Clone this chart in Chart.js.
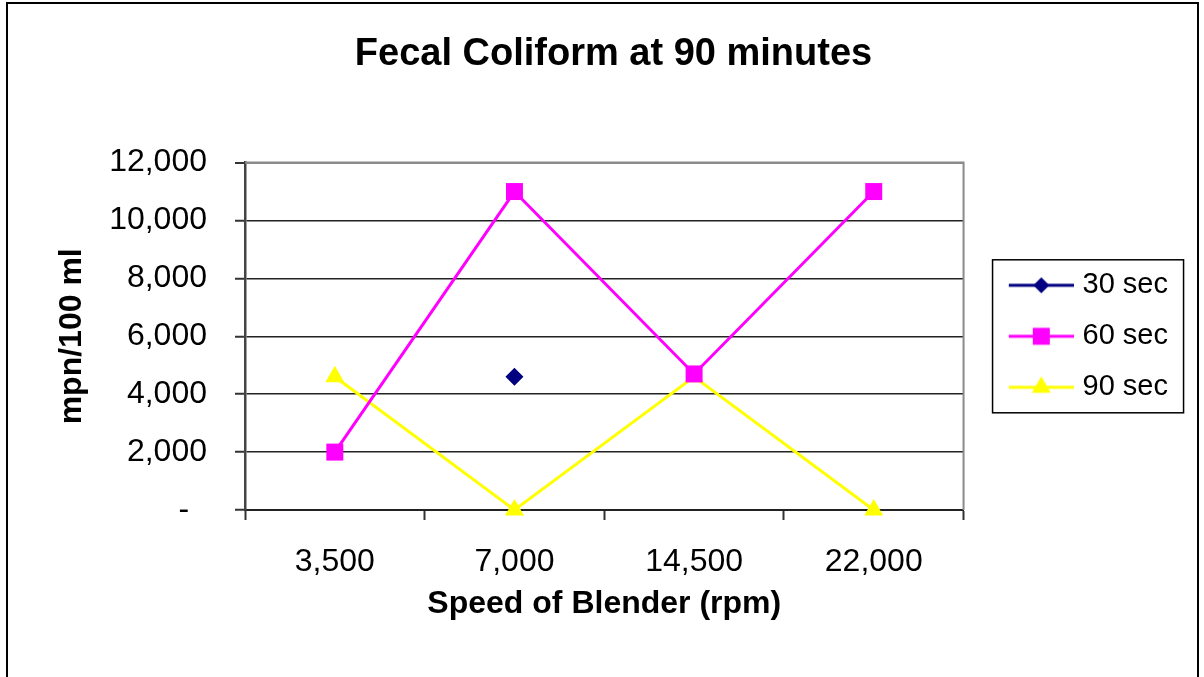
<!DOCTYPE html>
<html><head><meta charset="utf-8">
<script src="https://cdn.jsdelivr.net/npm/chart.js@4.4.0/dist/chart.umd.min.js"></script>
<style>html,body{margin:0;padding:0;background:#fff;overflow:hidden}canvas{display:block}</style>
</head><body>
<canvas id="c" width="1204" height="677"></canvas>
<script>
const categories = ['3,500', '7,000', '14,500', '22,000'];
const seriesNames = ['30 sec', '60 sec', '90 sec'];
const sec30 = [null, 4600, null, null];
const sec60 = [2000, 11000, 4700, 11000];
const sec90 = [4600, 0, 4600, 0];
const yMin = 0, yMax = 12000, yStep = 2000;

const FONT = "'Liberation Sans', Arial, sans-serif";
const colors = ['#000080', '#FF00FF', '#FFFF00'];
const styles = ['rectRot', 'rect', 'triangle'];
const radii = [9, 12, 11];
const legendRadii = [8, 12, 11];

function drawIcon(color, style, r) {
  const c = document.createElement('canvas');
  c.width = 94; c.height = 28;
  const g = c.getContext('2d');
  const cy = 14;
  g.strokeStyle = color; g.lineWidth = 3;
  g.beginPath(); g.moveTo(29, cy); g.lineTo(94, cy); g.stroke();
  g.fillStyle = color;
  g.beginPath();
  if (style === 'rectRot') { g.moveTo(61.5, cy - r); g.lineTo(61.5 + r, cy); g.lineTo(61.5, cy + r); g.lineTo(61.5 - r, cy); }
  else if (style === 'rect') { const s = r * Math.SQRT1_2; g.rect(61.5 - s, cy - s, 2 * s, 2 * s); }
  else { g.moveTo(61.5, cy - r); g.lineTo(61.5 + r * 0.866, cy + r / 2); g.lineTo(61.5 - r * 0.866, cy + r / 2); }
  g.closePath(); g.fill();
  return c;
}
const icons = colors.map((c, i) => drawIcon(c, styles[i], legendRadii[i]));

const framePlugin = {
  id: 'frame',
  beforeDraw(chart) {
    const ctx = chart.ctx;
    ctx.save();
    ctx.fillStyle = '#fff'; ctx.fillRect(0, 0, chart.width, chart.height);
    ctx.strokeStyle = '#000'; ctx.lineWidth = 2;
    ctx.strokeRect(7, 3, 1191, 700);
    ctx.restore();
  },
  beforeDatasetsDraw(chart) {
    const {ctx, chartArea: a} = chart;
    ctx.save();
    ctx.strokeStyle = '#8a8a8a'; ctx.lineWidth = 2;
    ctx.beginPath(); ctx.moveTo(a.left, a.top); ctx.lineTo(a.right, a.top); ctx.lineTo(a.right, a.bottom); ctx.stroke();
    ctx.restore();
  },
  afterDraw(chart) {
    const {ctx, chartArea: a, legend} = chart;
    const cy = (a.top + a.bottom) / 2;
    ctx.save();
    ctx.strokeStyle = '#000'; ctx.lineWidth = 1.5;
    ctx.strokeRect(legend.left + 29, cy - 76.5, 191, 153);
    ctx.restore();
  }
};

new Chart(document.getElementById('c'), {
  type: 'line',
  data: {
    labels: categories,
    datasets: [sec30, sec60, sec90].map((d, i) => ({
      label: seriesNames[i],
      data: d,
      borderColor: colors[i],
      backgroundColor: colors[i],
      borderWidth: 3,
      pointStyle: styles[i],
      pointRadius: radii[i],
      pointHoverRadius: radii[i],
      pointBorderWidth: 0,
      pointBackgroundColor: colors[i],
      spanGaps: false,
      tension: 0,
      clip: false
    }))
  },
  options: {
    responsive: false,
    animation: false,
    devicePixelRatio: 1,
    layout: {padding: {left: 49, right: 26, top: 0, bottom: 50}},
    plugins: {
      title: {
        display: true,
        text: 'Fecal Coliform at 90 minutes',
        color: '#000',
        font: {family: FONT, size: 38, weight: 'bold'},
        padding: {top: 32, bottom: 85}
      },
      legend: {
        position: 'right',
        fullSize: false,
        align: 'center',
        labels: {
          font: {family: FONT, size: 29},
          color: '#000',
          padding: 22,
          usePointStyle: true,
          pointStyleWidth: 82.5,
          generateLabels: (chart) => chart.data.datasets.map((ds, i) => ({
            text: ds.label,
            pointStyle: icons[i],
            fillStyle: colors[i],
            strokeStyle: colors[i],
            lineWidth: 0,
            hidden: false,
            datasetIndex: i,
            fontColor: '#000'
          }))
        }
      },
      tooltip: {enabled: false}
    },
    scales: {
      x: {
        offset: true,
        grid: {offset: true, drawOnChartArea: false, tickLength: 10, tickColor: '#333', tickWidth: 2},
        border: {color: '#222', width: 2},
        ticks: {font: {family: FONT, size: 32}, color: '#000', padding: 23, maxRotation: 0},
        title: {display: true, text: 'Speed of Blender (rpm)', color: '#000', font: {family: FONT, size: 32, weight: 'bold'}, padding: {top: 4, bottom: 4}},
        afterFit(s) { s.height = 117; }
      },
      y: {
        min: yMin, max: yMax,
        grid: {
          color: (c) => c.tick && c.tick.value === yMax ? '#8a8a8a' : '#222',
          lineWidth: (c) => c.tick && c.tick.value === yMax ? 2 : 1.5,
          tickLength: 10, tickColor: '#333', tickWidth: 2
        },
        border: {color: '#444', width: 2.5},
        ticks: {
          stepSize: yStep,
          font: {family: FONT, size: 32}, color: '#000', padding: 28,
          callback: (v) => v === 0 ? '-  ' : v.toLocaleString('en-US')
        },
        title: {display: true, text: 'mpn/100 ml', color: '#000', font: {family: FONT, size: 32, weight: 'bold'}, padding: {top: 4, bottom: 4}},
        afterFit(s) { s.width = 196; }
      }
    }
  },
  plugins: [framePlugin]
});
</script>
</body></html>
